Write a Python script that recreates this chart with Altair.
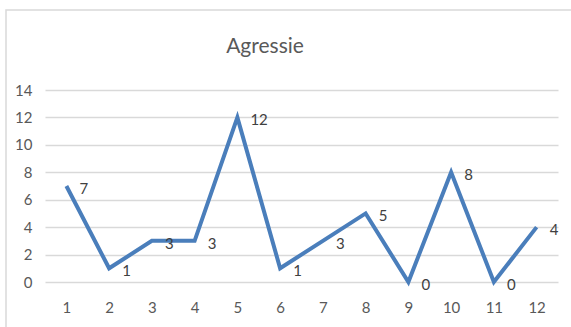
import altair as alt
import pandas as pd

months = [str(i) for i in range(1, 13)]
values = [7, 1, 3, 3, 12, 1, 3, 5, 0, 8, 0, 4]
y_ticks = [0, 2, 4, 6, 8, 10, 12, 14]
title_text = ["Agressie"]

df = pd.DataFrame({"m": months, "v": values})
FONT = "Lato, Carlito, sans-serif"

x = alt.X("m:N", sort=months, title=None,
          scale=alt.Scale(type="point", padding=0.5),
          axis=alt.Axis(labelAngle=0, ticks=False, domain=False, grid=False,
                        labelOverlap=False, labelFlush=False,
                        labelFont=FONT, labelFontSize=15, labelColor="#595959",
                        labelPadding=18))
y = alt.Y("v:Q", title=None,
          scale=alt.Scale(domain=[0, 14], nice=False),
          axis=alt.Axis(values=y_ticks, ticks=False, domain=False,
                        labelOverlap=False, labelFlush=False,
                        gridColor="#d9d9d9", gridWidth=1.5,
                        labelFont=FONT, labelFontSize=15, labelColor="#595959",
                        labelPadding=13))

frame = alt.Chart(pd.DataFrame({"a": [0]})).mark_rect(
    fill=None, stroke="#d9d9d9", strokeWidth=1.5
).encode(x=alt.value(-39), x2=alt.value(560), y=alt.value(-80), y2=alt.value(260))

line = alt.Chart(df).mark_line(color="#4a7ebb", strokeWidth=4).encode(x=x, y=y)

labels = alt.Chart(df).mark_text(
    align="left", dx=13, dy=3, font=FONT, fontSize=15, color="#404040"
).encode(x=x, y=y, text="v:Q")

title = alt.Chart(pd.DataFrame({"t": title_text})).mark_text(
    font=FONT, fontSize=21, color="#595959", baseline="middle", align="center"
).encode(text="t:N", x=alt.value(220), y=alt.value(-43))

chart = alt.layer(line, labels, title, frame).properties(
    width=513, height=192,
    autosize=alt.AutoSizeParams(type="none"),
    padding={"left": 45, "top": 90, "right": 13, "bottom": 45},
    background="white",
).configure_view(stroke=None)

chart.save("out.html", embed_options={"renderer": "svg", "actions": False})
